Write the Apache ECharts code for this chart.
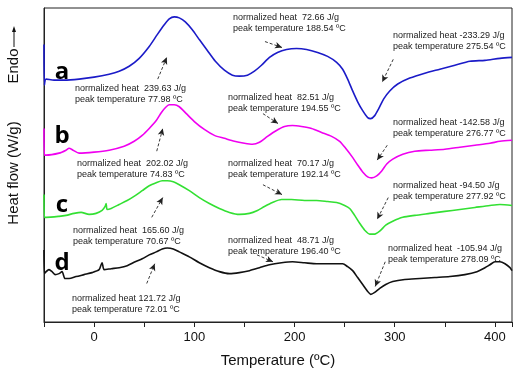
<!DOCTYPE html>
<html>
<head>
<meta charset="utf-8">
<script src="https://cdn.jsdelivr.net/npm/echarts@6/dist/echarts.min.js"></script>
<style>
  html, body { margin: 0; padding: 0; background: #fff; }
  #main { width: 519px; height: 373px; }
</style>
</head>
<body>
<div id="main"></div>
<script>
// DSC curves, [temperature ºC, heat flow (offset, arbitrary units)]
var curveA = [[-50,281],[-49.6,240],[-48,246],[-40,245],[-30,245],[-15,246],[0,248],[15,251],[25,254],[35,259],[45,267],[55,279],[63,291],[70,301],[75,307],[80,309],[85,308],[91,304],[98,296],[105,286],[113,275],[121,264],[130,255],[138,250],[145,249],[153,250],[160,254],[167,260],[175,268],[183,273],[192,276],[202,277],[212,276],[223,273],[233,269],[242,263],[248,256],[253,246],[258,234],[263,223],[268,214],[273,207],[276,206],[280,209],[284,216],[289,226],[295,234],[303,241],[315,247],[330,252],[345,256],[360,260],[375,264],[390,265],[405,267],[417,268]];
var curveB = [[-50,196],[-49.6,169],[-48,169],[-35,171],[-28,174],[-25,176],[-21,174],[-15,171],[0,172],[15,174],[30,178],[40,183],[48,189],[55,196],[62,204],[67,212],[71,217],[75,220],[80,220],[85,218],[92,211],[100,203],[110,195],[120,189],[130,186],[140,183],[150,181],[158,180],[165,182],[173,188],[182,194],[190,198],[198,199],[207,198],[217,196],[227,192],[237,188],[245,183],[251,176],[257,168],[263,159],[268,152],[273,147],[277,146],[282,148],[287,153],[292,160],[298,165],[308,170],[320,173],[335,174],[350,175],[365,177],[380,179],[395,181],[405,183],[417,184]];
var curveC = [[-50,129],[-49.6,106],[-48,106],[-35,107],[-28,108],[-20,110],[-13,111],[-5,109],[2,110],[8,113],[11,117],[12,120],[13,114],[17,115],[25,119],[33,123],[41,128],[48,133],[55,138],[62,141],[68,143],[73,143],[79,142],[85,139],[95,133],[105,126],[115,120],[125,115],[135,111],[145,109],[155,110],[163,113],[170,117],[178,121],[187,124],[197,124],[210,123],[222,123],[233,122],[242,121],[250,118],[255,115],[260,108],[265,100],[270,93],[275,89],[280,89],[285,92],[291,98],[298,102],[308,106],[320,108],[335,110],[350,112],[365,114],[380,116],[395,118],[405,119],[417,118]];
var curveD = [[-50,73],[-49.6,49],[-49,49],[-45,53],[-42,51],[-39,48],[-35,49],[-32,51],[-29,44],[-25,44],[-18,46],[-10,48],[-2,50],[5,53],[7,58],[8,60],[10,53],[17,54],[25,55],[33,57],[41,61],[48,64],[55,68],[62,71],[68,74],[73,75],[79,74],[85,71],[95,66],[105,60],[115,55],[125,51],[135,49],[145,50],[155,52],[165,55],[175,58],[187,60],[198,61],[210,60],[222,59],[235,59],[248,59],[253,56],[258,52],[263,45],[268,38],[273,31],[276,28],[280,30],[285,34],[291,38],[298,41],[310,43],[325,44],[340,45],[355,46],[370,48],[382,51],[390,55],[395,58],[400,61],[405,61],[410,59],[415,55],[417,52]];

var sampleNames = ['a', 'b', 'c', 'd'];
var sampleColors = ['#1b1bc8', '#f000f0', '#33e033', '#111111'];

// annotation texts (two lines each) and the arrows that point to the peaks
var noteLines = [
  ['normalized heat  239.63 J/g', 'peak temperature 77.98 ºC'],
  ['normalized heat  72.66 J/g', 'peak temperature 188.54 ºC'],
  ['normalized heat -233.29 J/g', 'peak temperature 275.54 ºC'],
  ['normalized heat  202.02 J/g', 'peak temperature 74.83 ºC'],
  ['normalized heat  82.51 J/g', 'peak temperature 194.55 ºC'],
  ['normalized heat -142.58 J/g', 'peak temperature 276.77 ºC'],
  ['normalized heat  165.60 J/g', 'peak temperature 70.67 ºC'],
  ['normalized heat  70.17 J/g', 'peak temperature 192.14 ºC'],
  ['normalized heat -94.50 J/g', 'peak temperature 277.92 ºC'],
  ['normalized heat 121.72 J/g', 'peak temperature 72.01 ºC'],
  ['normalized heat  48.71 J/g', 'peak temperature 196.40 ºC'],
  ['normalized heat  -105.94 J/g', 'peak temperature 278.09 ºC']
];
var arrowFrom = [[63.5,246],[170.5,284],[298.5,266],[62.5,173],[168.5,211],[292.5,179],[57.5,106],[168.5,139],[293.5,126],[52.5,39],[162.5,68],[290.5,61]];
var arrowTo   = [[72.5,268],[187.5,278],[287.5,243],[68.5,196],[183.5,201],[282.5,164],[68.5,126],[187.5,129],[282.5,104],[60.5,59],[178.5,61],[280.5,36]];

var xTickLabels = ['0', '100', '200', '300', '400'];

var chart = echarts.init(document.getElementById('main'));

var curves = [curveA, curveB, curveC, curveD];
var series = curves.map(function (d, i) {
    return {
        name: sampleNames[i],
        type: 'line',
        data: d,
        showSymbol: false,
        smooth: 0.25,
        lineStyle: { color: sampleColors[i], width: 1.6 },
        itemStyle: { color: sampleColors[i] },
        animation: false,
        z: 3
    };
});

// arrows as one markLine on an empty helper series
var arrowData = arrowFrom.map(function (p, i) {
    return [{ coord: p }, { coord: arrowTo[i] }];
});
series.push({
    type: 'line',
    data: [],
    animation: false,
    markLine: {
        silent: true,
        animation: false,
        symbol: ['none', 'arrow'],
        symbolSize: [5, 7],
        label: { show: false },
        lineStyle: { color: '#222', width: 0.9, type: [3, 2] },
        data: arrowData
    }
});

// pixel spots for note text (left, line-1 middle)
var notePos = [[75,88],[233,17],[393,35],[77,163],[228,97],[393,122],[73,230],[228,163],[393,185],[72,298],[228,240],[388,248]];
var letterPos = [[62,72],[62,136],[62,205],[62,263]];

var graphics = [];
noteLines.forEach(function (lines, i) {
    graphics.push({
        type: 'text', left: notePos[i][0], top: notePos[i][1] - 5, silent: true,
        style: { text: lines.join('\n'), fill: '#222', font: '9px "Liberation Sans", Arial, sans-serif', lineHeight: 11 }
    });
});
sampleNames.forEach(function (n, i) {
    graphics.push({
        type: 'text', x: letterPos[i][0], y: letterPos[i][1], silent: true,
        style: { text: n, fill: '#000', font: 'bold 24px "Open Sans", "DejaVu Sans", sans-serif', align: 'center', verticalAlign: 'middle' }
    });
});
// y axis title and the Endo arrow
graphics.push({
    type: 'text', x: 14, y: 173, rotation: Math.PI / 2, silent: true,
    style: { text: 'Heat flow (W/g)', fill: '#111', font: '15px "Liberation Sans", Arial, sans-serif', align: 'center', verticalAlign: 'middle' }
});
graphics.push({
    type: 'text', x: 14, y: 66, rotation: Math.PI / 2, silent: true,
    style: { text: 'Endo', fill: '#111', font: '15px "Liberation Sans", Arial, sans-serif', align: 'center', verticalAlign: 'middle' }
});
graphics.push({ type: 'line', silent: true, shape: { x1: 14, y1: 47, x2: 14, y2: 30 }, style: { stroke: '#111', lineWidth: 1 } });
graphics.push({ type: 'polygon', silent: true, shape: { points: [[14, 26], [12, 32], [16, 32]] }, style: { fill: '#111' } });

var option = {
    backgroundColor: '#fff',
    animation: false,
    grid: { left: 44, right: 7, top: 8, bottom: 47, show: true, borderColor: '#222', borderWidth: 1 },
    xAxis: {
        type: 'value',
        min: -50,
        max: 417,
        interval: 50,
        name: 'Temperature (ºC)',
        nameLocation: 'middle',
        nameGap: 31,
        nameTextStyle: { fontSize: 15, color: '#111', fontFamily: 'Liberation Sans' },
        axisLine: { onZero: false, lineStyle: { color: '#222', width: 1 } },
        axisTick: { inside: false, length: 5, lineStyle: { color: '#222' } },
        splitLine: { show: false },
        axisLabel: {
            fontSize: 13, color: '#111', fontFamily: 'Liberation Sans', margin: 9,
            formatter: function (v) { return xTickLabels.indexOf(String(v)) >= 0 ? String(v) : ''; }
        }
    },
    yAxis: {
        type: 'value',
        min: 0,
        max: 318,
        axisLine: { show: true, onZero: false, lineStyle: { color: '#222' } },
        axisTick: { show: false },
        axisLabel: { show: false },
        splitLine: { show: false }
    },
    graphic: graphics,
    series: series
};
chart.setOption(option);
</script>
</body>
</html>
